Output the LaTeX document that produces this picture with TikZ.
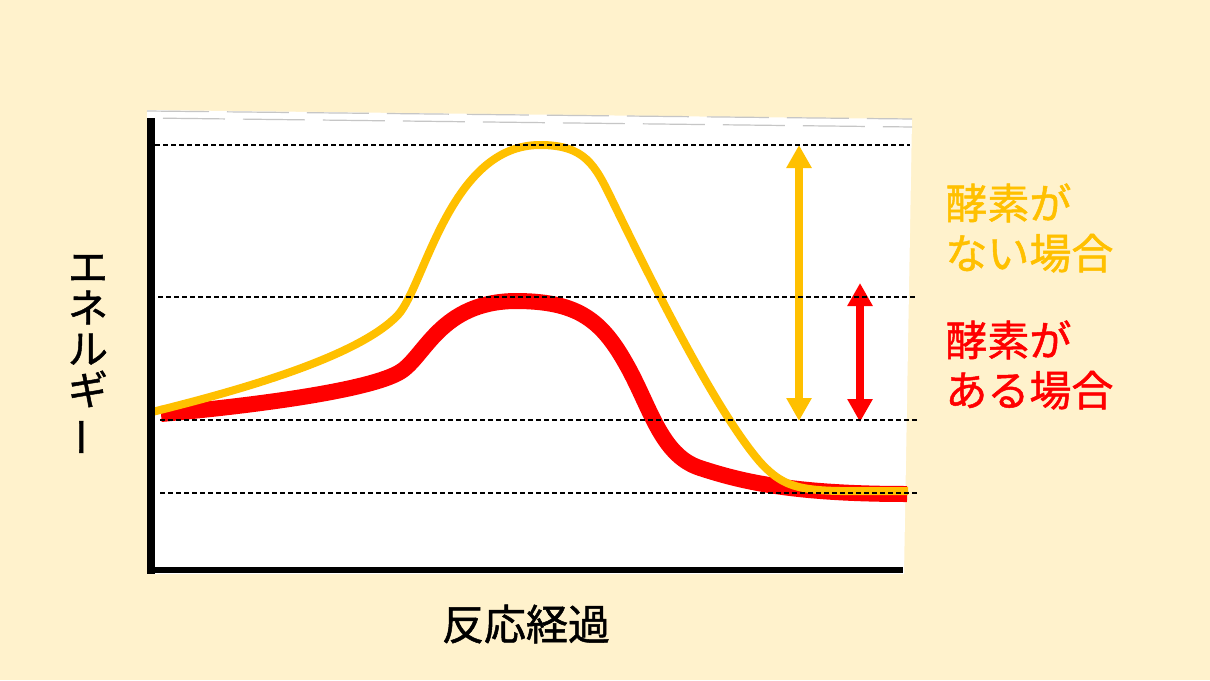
\documentclass[tikz,border=0pt]{standalone}
\usepackage{fontspec}
\usepackage{graphicx}
\newfontfamily\jp[FakeBold=1.2]{Noto Sans CJK JP}
\usetikzlibrary{arrows.meta}
\definecolor{bgcream}{HTML}{FFF2CC}
\definecolor{enzyellow}{HTML}{FFC000}
\definecolor{enzred}{HTML}{FF0000}
\tikzset{
  guide/.style={black, line width=0.6pt, dash pattern=on 2.5pt off 1.5pt},
  topdash/.style={gray!45, line width=0.6pt, dash pattern=on 31pt off 9pt},
  yellowcurve/.style={enzyellow, line width=4pt},
  redcurve/.style={enzred, line width=8pt},
  gaparrow/.style={line width=3.7pt, {Triangle[width=12pt,length=11.5pt]}-{Triangle[width=12pt,length=11.5pt]}},
  label/.style={font=\jp\fontsize{21}{25}\selectfont, inner sep=0pt}
}
\begin{document}
\begin{tikzpicture}[x=0.5pt, y=-0.5pt]
	\fill[bgcream] (0,0) rectangle (1210,680);
	\useasboundingbox (0,0) rectangle (1210,680);
	\fill[white] (147,110) -- (912,119) -- (904,574) -- (147,574) -- cycle;
	\draw[topdash] (147,111) -- (912,119);
	\draw[topdash, dash phase=-8pt] (147,118) -- (912,127);
	\draw[redcurve] (161,414) .. controls (260,405) and (370,390) .. (400,372)
		.. controls (425,357) and (440,302) .. (515,301)
		.. controls (575,301) and (600,318) .. (625,362)
		.. controls (650,405) and (660,455) .. (700,468)
		.. controls (740,481) and (790,494) .. (907,494);
	\draw[yellowcurve] (148,413) .. controls (250,388) and (360,355) .. (398,315)
		.. controls (425,285) and (450,145) .. (540,145)
		.. controls (585,145) and (595,165) .. (612,200)
		.. controls (650,278) and (715,410) .. (760,462)
		.. controls (790,495) and (810,491) .. (908,491);
	\coordinate (ytop) at (799,145);
	\coordinate (ybot) at (799,421);
	\coordinate (rtop) at (860,283);
	\coordinate (rbot) at (860,422);
	\draw[gaparrow, enzyellow] (ytop) -- (ybot);
	\draw[gaparrow, enzred] (rtop) -- (rbot);
	\draw[guide] (147,145) -- (910,145);
	\draw[guide] (150,297) -- (915,297);
	\draw[guide] (160,420) -- (918,420);
	\draw[guide] (160,493) -- (920,493);
	\draw[line width=4pt] (151,118) -- (151,574);
	\draw[line width=3pt] (147,570) -- (903,570);
	\node[label, align=center, text width=22pt, font=\jp\fontsize{20}{20.5}\selectfont] (ylabel) at (88,356) {エ\\ネ\\ル\\ギ\\\rotatebox[origin=c]{90}{ー}};
	\node[label] (xlabel) at (526,624) {反応経過};
	\node[label, anchor=west, align=left, text=enzyellow] (nolabel) at (945,228) {酵素が\\ない場合};
	\node[label, anchor=west, align=left, text=enzred] (withlabel) at (945,365) {酵素が\\ある場合};
\end{tikzpicture}
\end{document}
